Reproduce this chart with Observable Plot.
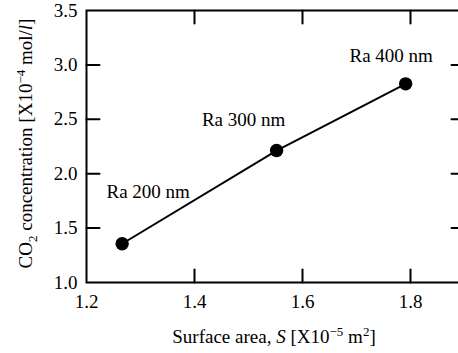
<!DOCTYPE html>
<html>
<head>
<meta charset="utf-8">
<script src="https://cdn.jsdelivr.net/npm/d3@7"></script>
<script src="https://cdn.jsdelivr.net/npm/@observablehq/plot@0.6"></script>
<style>
  html, body { margin: 0; padding: 0; background: white; overflow: hidden; }
  svg { overflow: hidden; }
  svg text, svg tspan { font-family: 'Liberation Serif', 'Times New Roman', serif !important; }
</style>
</head>
<body>
<div id="chart"></div>
<script>
// Data
const surfaceArea = [1.266, 1.552, 1.791];   // S [x10^-5 m^2]
const co2Conc = [1.356, 2.213, 2.826];       // CO2 concentration [x10^-4 mol/l]
const roughness = ["Ra 200 nm", "Ra 300 nm", "Ra 400 nm"];
const xTickLabels = [1.2, 1.4, 1.6, 1.8];
const yTickLabels = [1.0, 1.5, 2.0, 2.5, 3.0, 3.5];
const xInnerTicks = [1.4, 1.6, 1.8];
const yInnerTicks = [1.5, 2.0, 2.5, 3.0];

const data = surfaceArea.map((s, i) => ({s, c: co2Conc[i], label: roughness[i]}));

const font = "Liberation Serif";
const tickShape = {draw(context, l) { context.moveTo(0, 0); context.lineTo(0, -l); }};
const tk = {length: 13, anchor: "start", shape: tickShape, strokeWidth: 2, stroke: "black"};

const labelOffsets = [[26, -52], [-33, -31], [-14.5, -28]];

const plot = Plot.plot({
  width: 458,
  height: 353,
  marginLeft: 86,
  marginRight: -6,
  marginTop: 10,
  marginBottom: 71,
  style: {fontFamily: font, fontSize: "19px", color: "black", background: "white"},
  x: {domain: [1.2, 1.9]},
  y: {domain: [1.0, 3.5]},
  marks: [
    Plot.frame({stroke: "black", strokeWidth: 2}),
    Plot.vector(xInnerTicks, {x: d => d, frameAnchor: "bottom", rotate: 0, ...tk}),
    Plot.vector(xInnerTicks, {x: d => d, frameAnchor: "top", rotate: 180, ...tk}),
    Plot.vector(yInnerTicks, {y: d => d, frameAnchor: "left", rotate: 90, ...tk}),
    Plot.vector(yInnerTicks, {y: d => d, frameAnchor: "right", rotate: -90, ...tk}),
    Plot.axisX({ticks: xTickLabels, tickSize: 0, tickPadding: 12, tickFormat: d3.format(".1f"), label: null, fontSize: 19, fontFamily: font, fontVariant: "normal"}),
    Plot.axisY({ticks: yTickLabels, tickSize: 0, tickPadding: 9, tickFormat: d3.format(".1f"), label: null, fontSize: 19, fontFamily: font, fontVariant: "normal"}),
    Plot.line(data, {x: "s", y: "c", stroke: "black", strokeWidth: 2}),
    Plot.dot(data, {x: "s", y: "c", r: 6.7, fill: "black", stroke: "none"}),
    ...data.map((d, i) => Plot.text([d], {x: "s", y: "c", text: "label", dx: labelOffsets[i][0], dy: labelOffsets[i][1], fontSize: 19, fontFamily: font, fill: "black"}))
  ]
});

const svg = d3.select(plot);

function richText(parent, segments, attrs) {
  const t = parent.append("text");
  Object.entries(attrs).forEach(([k, v]) => t.attr(k, v));
  let shift = 0;
  segments.forEach(seg => {
    const sp = t.append("tspan").text(seg.t);
    const target = seg.shift || 0;
    const dy = target - shift;
    if (dy !== 0) sp.attr("dy", dy);
    shift = target;
    if (seg.size) sp.attr("font-size", seg.size);
    if (seg.italic) sp.attr("font-style", "italic");
  });
  return t;
}

// x axis title
richText(svg, [
  {t: "Surface area, "},
  {t: "S", italic: true},
  {t: " [X10"},
  {t: "\u22125", shift: -7, size: 13},
  {t: " m", shift: 0},
  {t: "2", shift: -7, size: 13},
  {t: "]", shift: 0}
], {x: 274, y: 343, "text-anchor": "middle", "font-family": font, "font-size": 19, fill: "black"});

// y axis title
richText(svg, [
  {t: "CO"},
  {t: "2", shift: 5, size: 13},
  {t: " concentration [X10", shift: 0},
  {t: "\u22124", shift: -7, size: 13},
  {t: " mol/", shift: 0},
  {t: "l", italic: true},
  {t: "]"}
], {transform: "translate(32,143.5) rotate(-90)", "text-anchor": "middle", "font-family": font, "font-size": 19, fill: "black"});

document.getElementById("chart").appendChild(plot);
</script>
</body>
</html>
